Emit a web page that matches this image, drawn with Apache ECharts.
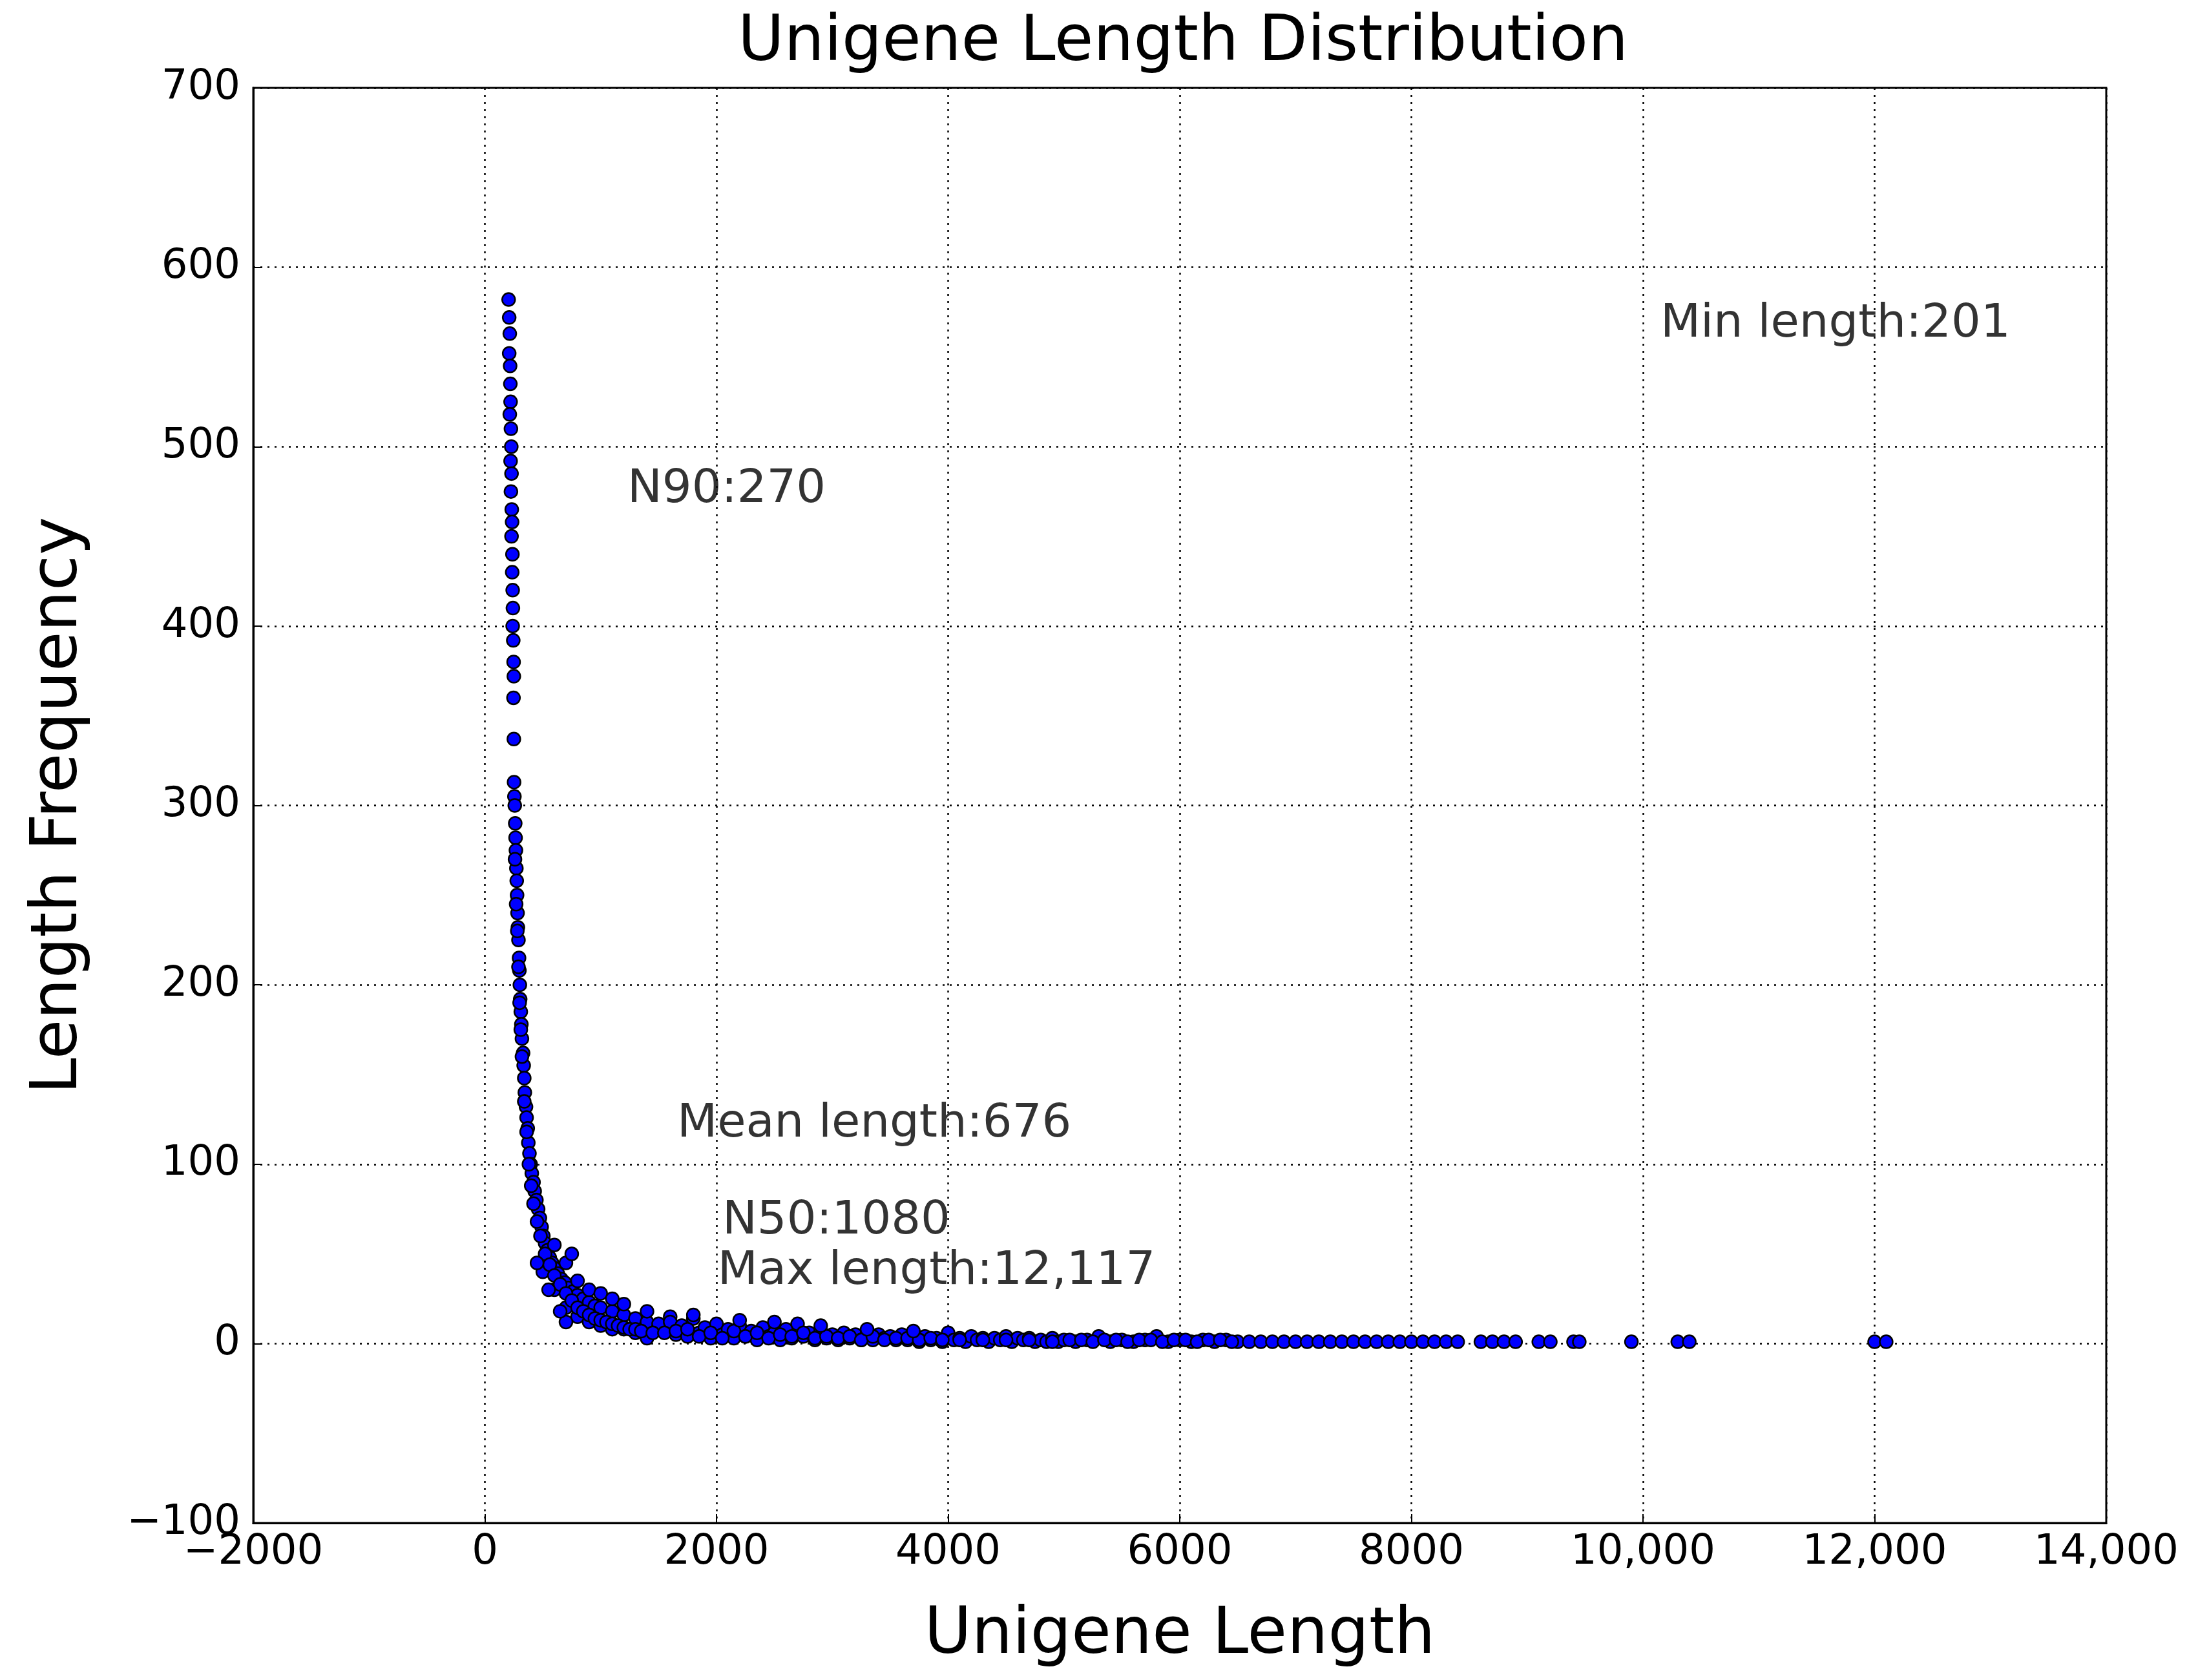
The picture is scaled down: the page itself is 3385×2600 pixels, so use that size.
<!DOCTYPE html>
<html>
<head>
<meta charset="utf-8">
<script src="https://cdn.jsdelivr.net/npm/echarts@6/dist/echarts.min.js"></script>
<style>html,body{margin:0;padding:0;background:#fff}#chart{width:3385px;height:2600px}</style>
</head>
<body>
<div id="chart"></div>
<script>
// Unigene length (x) and frequency (y)
const lengths = [
    205, 210, 215, 210, 218, 220, 222, 215, 225, 228, 222, 230, 225, 232, 235, 230, 238, 236, 240, 242,
    240, 245, 248, 250, 247, 250, 252, 255, 258, 262, 265, 268, 272, 275, 278, 282, 285, 290, 295, 298,
    302, 305, 310, 315, 320, 330, 335, 340, 345, 355, 360, 370, 375, 385, 395, 405, 420, 430, 445, 460,
    475, 490, 505, 520, 540, 560, 580, 600, 630, 660, 690, 720, 760, 800, 850, 900, 950, 1000, 1100, 1200,
    1300, 1400, 1500,
    500, 600, 700, 800, 900, 1000, 1200, 1400, 1300, 1100,
    600, 700, 750, 800, 900, 1000, 1100, 1200, 1400, 1600,
    1600, 1650, 1700, 1750, 1800, 1850, 1900, 1950, 2000, 2050, 2100, 2150, 2200, 2250, 2300, 2350, 2400, 2450, 2500, 2550,
    2600, 2650, 2700, 2750, 2800, 2850, 2900, 2950, 3000, 3050, 3100, 3150, 3200, 3250, 3300, 3350, 3400, 3450, 3500, 3550,
    3600, 3650, 3700, 3750, 3800, 3850, 3900, 3950, 4000, 4050, 4100, 4150, 4200, 4250, 4300, 4350, 4400, 4450, 4500, 4550,
    4600, 4650, 4700, 4750, 4800, 4850, 4900, 4950, 5000, 5100, 5200, 5300, 5400, 5500, 5600, 5700, 5800, 5900, 6000, 6100,
    6200, 6300, 6400, 6500, 6600, 6700, 6800, 6900, 7000, 7100, 7200, 7300, 7400, 7500, 7600, 7700, 7800, 7900, 8000, 8100,
    8200, 8300, 8400, 8600, 8700, 8800, 8900, 9100, 9200, 9400, 9450, 9900, 10300, 10400, 12000, 12100,
    // extra spread around the bend and the dense band
    260, 270, 280, 290, 300, 310, 320, 340, 360, 380, 400, 420, 450, 480, 520, 560, 600, 650, 700, 750,
    800, 850, 900, 950, 1000, 1050, 1100, 1150, 1200, 1250, 1300, 1350, 1450, 1550, 1650, 1750, 1850, 1950, 2050, 2150,
    2250, 2350, 2450, 2550, 2650, 2750, 2850, 2950, 3050, 3150, 3250, 3350, 3450, 3550, 3650, 3750, 3850, 3950, 4100, 4300,
    4500, 4700, 4900, 5050, 5150, 5250, 5350, 5450, 5550, 5650, 5750, 5850, 5950, 6050, 6150, 6250, 6350, 6450, 1800, 2200,
    2500, 2900, 3300, 3700, 700, 650, 550, 450
];
const frequencies = [
    582, 572, 563, 552, 545, 535, 525, 518, 510, 500, 492, 485, 475, 465, 458, 450, 440, 430, 420, 410,
    400, 392, 380, 372, 360, 337, 313, 305, 300, 290, 282, 275, 265, 258, 250, 240, 232, 225, 215, 208,
    200, 192, 185, 178, 170, 162, 155, 148, 140, 132, 126, 120, 112, 106, 100, 95, 90, 85, 80, 75,
    70, 65, 60, 56, 52, 48, 45, 42, 39, 36, 34, 31, 29, 27, 25, 23, 21, 20, 18, 16,
    14, 12, 11,
    40, 30, 20, 15, 12, 10, 8, 3, 6, 8,
    55, 45, 50, 35, 30, 28, 25, 22, 18, 15,
    12, 5, 10, 4, 14, 6, 9, 3, 11, 5, 8, 3, 10, 4, 7, 2, 9, 4, 6, 2,
    8, 3, 11, 4, 6, 2, 7, 3, 5, 2, 6, 3, 5, 2, 6, 2, 5, 3, 4, 2,
    5, 2, 4, 1, 4, 2, 3, 1, 6, 2, 3, 1, 4, 2, 3, 1, 3, 2, 4, 1,
    3, 2, 3, 1, 2, 1, 3, 1, 2, 1, 2, 4, 1, 2, 1, 2, 4, 1, 2, 1,
    2, 1, 2, 1, 1, 1, 1, 1, 1, 1, 1, 1, 1, 1, 1, 1, 1, 1, 1, 1,
    1, 1, 1, 1, 1, 1, 1, 1, 1, 1, 1, 1, 1, 1, 1, 1,
    270, 245, 230, 210, 190, 175, 160, 135, 118, 100, 88, 78, 68, 60, 50, 44, 38, 33, 28, 24,
    20, 18, 16, 14, 13, 12, 11, 10, 9, 8, 8, 7, 6, 6, 7, 8, 4, 6, 3, 7,
    4, 6, 3, 5, 4, 6, 3, 4, 3, 4, 2, 4, 2, 3, 3, 2, 3, 2, 2, 2,
    2, 2, 1, 2, 2, 1, 2, 2, 1, 2, 2, 1, 2, 2, 1, 2, 2, 1, 16, 13,
    12, 10, 8, 7, 12, 18, 30, 45
];

// annotation texts and where they sit (data coords, left-middle)
const noteTexts = ['Min length:201', 'N90:270', 'Mean length:676', 'N50:1080', 'Max length:12,117'];
const noteX = [10150, 1230, 1660, 2050, 2010];
const noteY = [568, 476, 122, 68, 40];

const points = lengths.map((x, i) => [x, frequencies[i]]);
const notes = noteTexts.map((t, i) => ({ value: [noteX[i], noteY[i]], name: t }));

const font = 'DejaVu Sans';
const gridLine = { show: true, lineStyle: { color: '#000', type: [3, 8], width: 2.5 } };

const option = {
    animation: false,
    backgroundColor: '#fff',
    title: {
        text: 'Unigene Length Distribution',
        left: 1826, top: 14, textAlign: 'center',
        textStyle: { fontFamily: font, fontSize: 98, fontWeight: 'normal', color: '#000' }
    },
    grid: {
        left: 392, right: 125, top: 136, bottom: 243,
        show: true, borderColor: '#000', borderWidth: 3, backgroundColor: 'transparent'
    },
    xAxis: {
        type: 'value', min: -2000, max: 14000, interval: 2000,
        name: 'Unigene Length', nameLocation: 'middle', nameGap: 125,
        nameTextStyle: { fontFamily: font, fontSize: 100, color: '#000' },
        axisLine: { show: true, onZero: false, lineStyle: { color: '#000', width: 3 } },
        axisTick: { show: true, inside: true, length: 14, lineStyle: { color: '#000', width: 2 } },
        axisLabel: {
            fontFamily: font, fontSize: 64, color: '#000', margin: 14,
            formatter: v => (v >= 10000 ? (v / 1000) + ',000' : (v < 0 ? '\u2212' + (-v) : String(v)))
        },
        splitLine: gridLine
    },
    yAxis: {
        type: 'value', min: -100, max: 700, interval: 100,
        name: 'Length Frequency', nameLocation: 'middle', nameGap: 250,
        nameTextStyle: { fontFamily: font, fontSize: 100, color: '#000' },
        axisLine: { show: true, onZero: false, lineStyle: { color: '#000', width: 3 } },
        axisTick: { show: true, inside: true, length: 14, lineStyle: { color: '#000', width: 2 } },
        axisLabel: {
            fontFamily: font, fontSize: 64, color: '#000', margin: 20,
            formatter: v => (v < 0 ? '\u2212' + (-v) : String(v))
        },
        splitLine: gridLine
    },
    series: [{
        type: 'scatter',
        data: points,
        symbolSize: 20,
        itemStyle: { color: '#0000ff', borderColor: '#000', borderWidth: 2.5, opacity: 1 }
    }, {
        type: 'scatter',
        data: notes,
        symbolSize: 0,
        silent: true,
        label: {
            show: true, position: 'right', distance: 0,
            formatter: p => p.name,
            fontFamily: font, fontSize: 72, color: '#000'
        }
    }]
};

const myChart = echarts.init(document.getElementById('chart'));
myChart.setOption(option);
window.addEventListener('resize', myChart.resize);
</script>
</body>
</html>
